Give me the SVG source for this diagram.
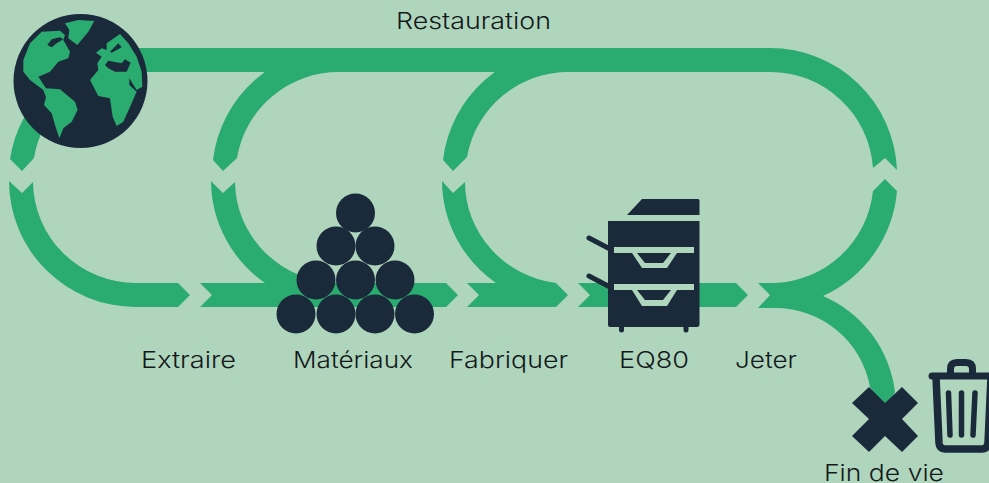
<svg xmlns="http://www.w3.org/2000/svg" width="989" height="483" viewBox="0 0 989 483">
<style>
.g{fill:#2aab6f}
.n{fill:#1b2a3b}
.c{fill:#afd6bc}
text{font-family:"Inter","Liberation Sans",sans-serif;font-size:23px;font-weight:300;fill:#15191d}
</style>
<rect width="989" height="483" class="c"/>
<g id="connectors">
<path class="g" d="M120,48H770A127,127 0 0 1 897,170L885,158L873,168A103,103 0 0 0 770,72H120Z"/>
<path class="g" d="M213,160L223,171L237,158A103,103 0 0 1 340,72V48A127,127 0 0 0 213,160Z"/>
<path class="g" d="M443,160L453,171L467,157A103,103 0 0 1 570,72V48A127,127 0 0 0 443,160Z"/>
<path class="g" d="M10,159L22,171L34,158A103,103 0 0 1 65,100L50,85A127,127 0 0 0 10,159Z"/>
<path class="g" d="M9,181L22,193L33,182A103,102 0 0 0 136,283H178L190,295L178,307H136A127,126 0 0 1 9,181Z"/>
<path class="g" d="M211,181L223,193L235,182A105,102 0 0 0 339,283H446L458,295L446,307H200L212,295L200,283H265A128,126 0 0 1 211,181Z"/>
<path class="g" d="M442,181L453,193L465,182A105,102 0 0 0 556,283L568,295L556,307H467L479,295L467,283H496A128,126 0 0 1 442,181Z"/>
<path class="g" d="M578,283H736L748,295L736,307H578L590,295Z"/>
<path class="g" d="M885,179L897,191A127,127 0 0 1 823,296A120,120 0 0 1 895,392L885,410L870,387A96,96 0 0 0 775,308H758L770,295L758,283H775A103,103 0 0 0 873,191Z"/>
</g>
<g id="globe">
<circle class="n" cx="80.500" cy="81" r="67"/>
<g transform="translate(10,10) scale(.3333)">
<path class="g" d="M40,150L60,100L95,65L150,62L165,75L160,90L180,125L175,145L145,155L120,185L85,200L108,235L150,238L195,275L203,300L185,335L160,355L148,385L135,345L125,310L102,285L108,262L100,240L60,210L40,185Z"/>
<path class="g" d="M165,40L205,30L253,33L235,65L202,105L175,85L178,60Z"/>
<path class="g" d="M330,72L355,100L380,140L395,185L397,230L380,240L358,205L358,225L380,245L365,280L340,335L320,348L308,320L300,265L265,258L240,210L265,180L262,160L275,140L258,128L275,115L290,120L290,100Z"/>
<path class="n" d="M112,105L125,88L150,82L160,88L140,100L125,112Z"/>
<path class="n" d="M285,165L295,152L335,160L345,148L362,158L350,185L315,185L295,175Z"/>
<path class="n" d="M300,125L325,100L335,112L320,120L305,128Z"/>
</g>
</g>
<g id="materiaux" class="n">
<circle cx="355.500" cy="213" r="19.500"/>
<circle cx="336" cy="246" r="19.500"/><circle cx="375" cy="246" r="19.500"/>
<circle cx="316" cy="280" r="19.500"/><circle cx="355.500" cy="280" r="19.500"/><circle cx="395" cy="280" r="19.500"/>
<circle cx="296" cy="314" r="19.500"/><circle cx="336" cy="314" r="19.500"/><circle cx="375" cy="314" r="19.500"/><circle cx="414.500" cy="314" r="19.500"/>
</g>
<g id="eq80">
<path class="n" d="M627,215L642,199H698Q699.500,199 699.500,201V215Z"/>
<path class="n" d="M608,221H699.500V325Q699.500,327 697,327H610Q608,327 608,325Z"/>
<path d="M621.500,326V330M686,326V330" stroke="#1b2a3b" stroke-width="5" stroke-linecap="round" fill="none"/>
<path d="M589,238L610,249M589,276L610,287" stroke="#1b2a3b" stroke-width="5" stroke-linecap="round" fill="none"/>
<path class="c" d="M614,247H694V253H677L667,268H642L632,253H614Z"/>
<path class="n" d="M637,253H671L663,263H645Z"/>
<path class="c" d="M614,284H694V290H677L667,306H642L632,290H614Z"/>
<path class="n" d="M637,290H671L663,300H645Z"/>
</g>
<g id="fin-de-vie">
<path class="n" d="M869,387L885,403L902,387L918,403L902,419L918,436L902,452L885,436L869,452L852,436L869,419L852,403Z"/>
<g fill="none" stroke="#1b2a3b" stroke-linecap="round" stroke-linejoin="round">
<path stroke-width="7" d="M932,376H995"/>
<path stroke-width="7" d="M950.500,373V369Q950.500,362.500 957,362.500H966Q972.500,362.500 972.500,369V373"/>
<path stroke-width="7.500" d="M936,377L939,443Q939.500,449 945,449H982Q987,449 988,443L991,377"/>
<path stroke-width="5.500" d="M948.500,393L950,435M961.500,393V435M975,393L973,435"/>
</g>
</g>
<g id="labels">
<text x="396" y="29" textLength="155" lengthAdjust="spacingAndGlyphs">Restauration</text>
<text x="141" y="368" textLength="95" lengthAdjust="spacingAndGlyphs">Extraire</text>
<text x="293" y="368" textLength="120" lengthAdjust="spacingAndGlyphs">Matériaux</text>
<text x="449" y="368" textLength="119" lengthAdjust="spacingAndGlyphs">Fabriquer</text>
<text x="619" y="368" textLength="70" lengthAdjust="spacingAndGlyphs">EQ80</text>
<text x="735" y="368" textLength="62" lengthAdjust="spacingAndGlyphs">Jeter</text>
<text x="824" y="481" textLength="120" lengthAdjust="spacingAndGlyphs">Fin de vie</text>
</g>
</svg>
